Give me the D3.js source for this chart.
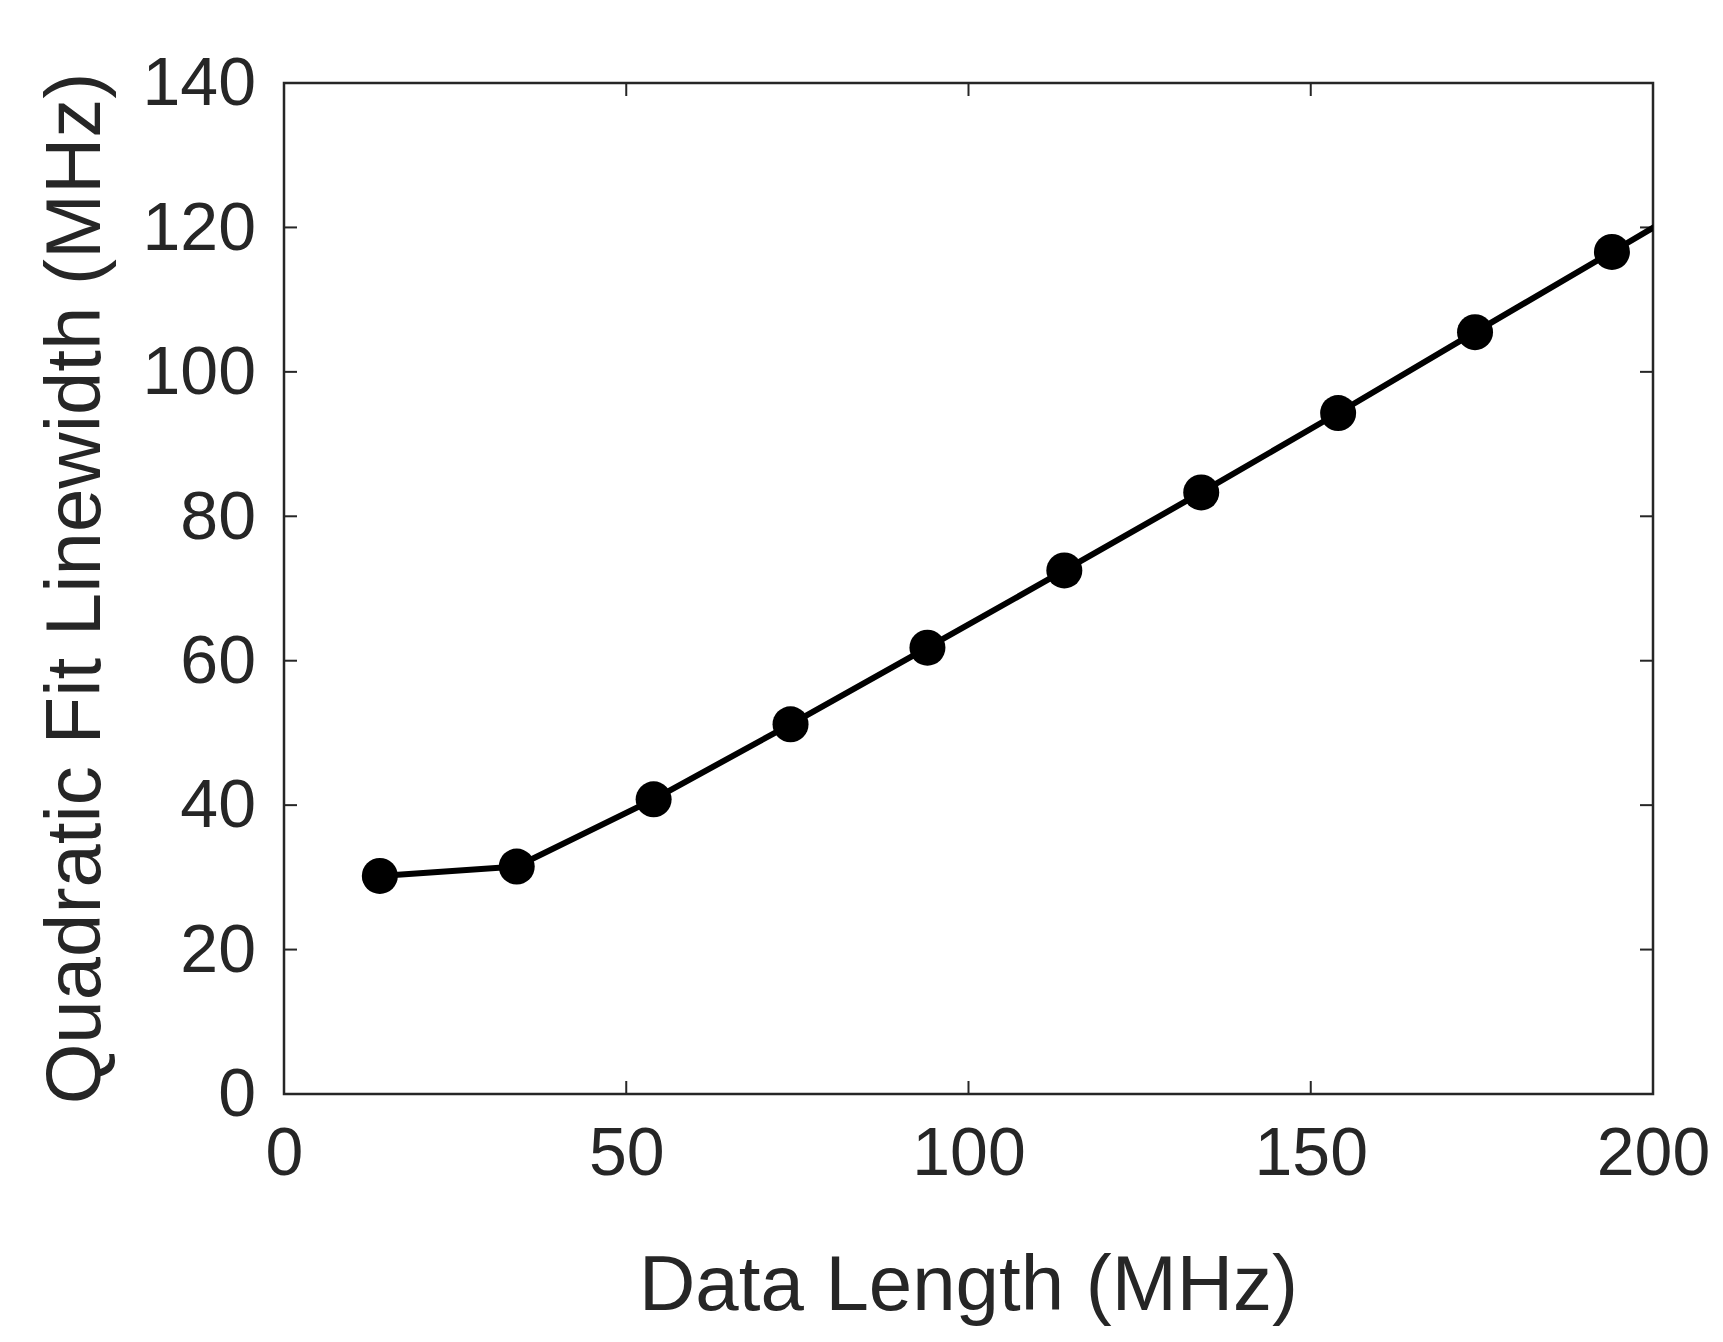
<!DOCTYPE html><html><head><meta charset="utf-8">
<script src="https://cdn.jsdelivr.net/npm/d3@7"></script>
<style>body{margin:0;background:#fff}</style></head><body>
<svg id="c" width="1723" height="1342"></svg>
<script>
const xVals=[14,34,54,74,94,114,134,154,174,194];
const yVals=[30.2,31.5,40.8,51.2,61.8,72.5,83.3,94.3,105.5,116.6];
const lineExtX=[214], lineExtY=[127.8];
const xTicks=[0,50,100,150,200], yTicks=[0,20,40,60,80,100,120,140];
const svg=d3.select("#c");
const L=284,R=1653,T=83,B=1094;
const x=d3.scaleLinear().domain([0,200]).range([L,R]);
const y=d3.scaleLinear().domain([0,140]).range([B,T]);
const font="Arial, 'Liberation Sans', sans-serif", col="#262626";
svg.append("defs").append("clipPath").attr("id","cp").append("rect").attr("x",L).attr("y",T).attr("width",R-L).attr("height",B-T);
const ax=svg.append("g").attr("transform",`translate(0,${B})`).call(d3.axisBottom(x).tickValues(xTicks).tickSize(0).tickPadding(30));
const ay=svg.append("g").attr("transform",`translate(${L},0)`).call(d3.axisLeft(y).tickValues(yTicks).tickSize(0).tickPadding(28));
[ax,ay].forEach(g=>{g.select(".domain").remove();g.selectAll("text").attr("font-family",font).attr("font-size",68).attr("fill",col);});
ax.selectAll("text").attr("dy","0.75em");
const tl=13;
xTicks.forEach(v=>{svg.append("line").attr("x1",x(v)).attr("x2",x(v)).attr("y1",B).attr("y2",B-tl).attr("stroke","#262626").attr("stroke-width",2);
 svg.append("line").attr("x1",x(v)).attr("x2",x(v)).attr("y1",T).attr("y2",T+tl).attr("stroke","#262626").attr("stroke-width",2);});
yTicks.forEach(v=>{svg.append("line").attr("y1",y(v)).attr("y2",y(v)).attr("x1",L).attr("x2",L+tl).attr("stroke","#262626").attr("stroke-width",2);
 svg.append("line").attr("y1",y(v)).attr("y2",y(v)).attr("x1",R).attr("x2",R-tl).attr("stroke","#262626").attr("stroke-width",2);});
svg.append("rect").attr("x",L).attr("y",T).attr("width",R-L).attr("height",B-T).attr("fill","none").attr("stroke","#262626").attr("stroke-width",2.5);
const pts=xVals.map((v,i)=>[v,yVals[i]]).concat(lineExtX.map((v,i)=>[v,lineExtY[i]]));
svg.append("path").attr("clip-path","url(#cp)").attr("d",d3.line().x(d=>x(d[0])).y(d=>y(d[1]))(pts)).attr("fill","none").attr("stroke","#000").attr("stroke-width",6);
svg.selectAll("circle").data(xVals).join("circle").attr("cx",d=>x(d)).attr("cy",(d,i)=>y(yVals[i])).attr("r",18).attr("fill","#000");
svg.append("text").attr("x",(L+R)/2).attr("y",1310).attr("text-anchor","middle").attr("font-family",font).attr("font-size",78).attr("fill",col).text("Data Length (MHz)");
svg.append("text").attr("transform",`translate(100,${(T+B)/2}) rotate(-90)`).attr("text-anchor","middle").attr("font-family",font).attr("font-size",78).attr("fill",col).text("Quadratic Fit Linewidth (MHz)");
</script></body></html>
